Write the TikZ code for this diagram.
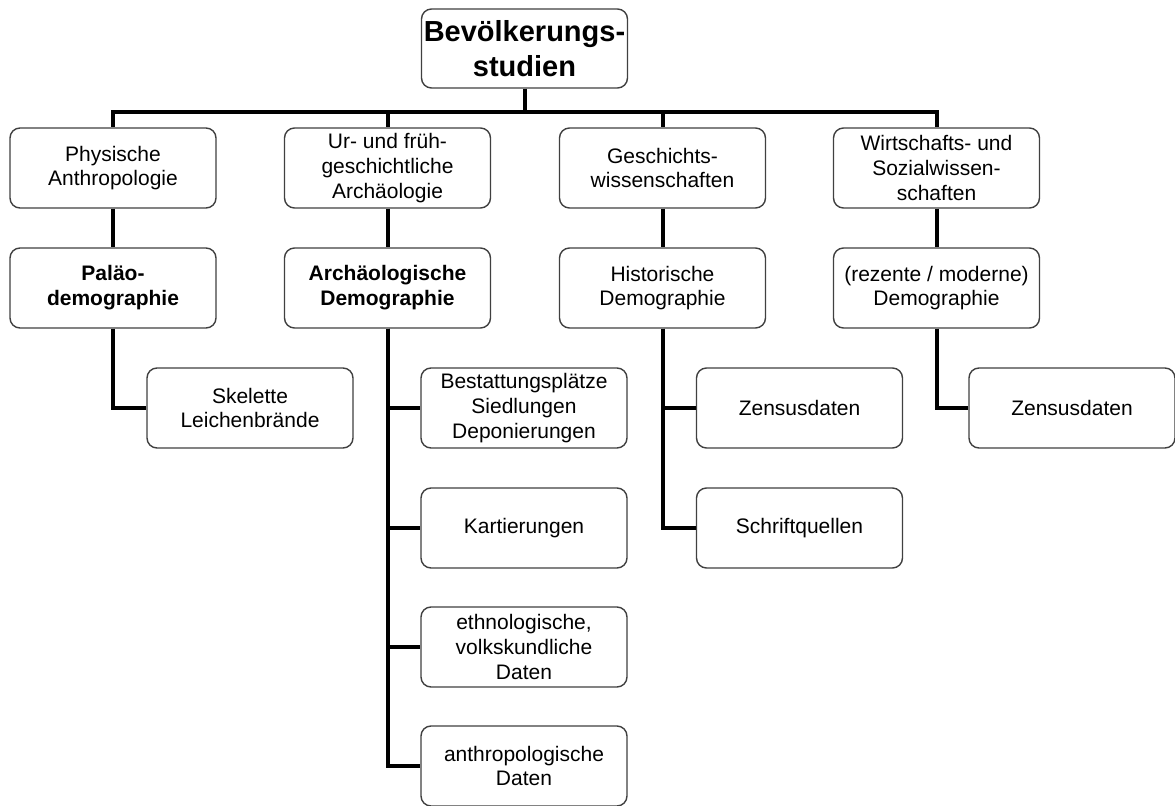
\documentclass[tikz,border=0pt]{standalone}
\usepackage{fontspec}
\setmainfont{Liberation Sans}
\begin{document}
\begin{tikzpicture}[
  x=0.5pt, y=-0.5pt,
  bvbox/.style = {draw=black!75, line width=0.7pt, rounded corners=5pt, fill=white,
                  minimum width=103pt, minimum height=40pt, inner sep=1pt, align=center,
                  font=\fontsize{10.5}{12.4}\selectfont},
  bvbold/.style = {bvbox, font=\fontsize{10.5}{12.4}\selectfont\bfseries},
  bvtitle/.style = {bvbox, minimum height=39.5pt, font=\fontsize{14.5}{17.5}\selectfont\bfseries},
  bvconn/.style = {line width=2pt, black}
]
  \useasboundingbox (0,0) rectangle (1175,806);
  % Wurzel
  \node[bvtitle] (root) at (524.5,48.5) {Bevölkerungs-\\studien};
  \coordinate (bar) at (524.5,112);
  % Fachgebiete
  \node[bvbox] (phys) at (113,168) {Physische\\Anthropologie};
  \node[bvbox] (arch) at (387.5,168) {Ur- und früh-\\geschichtliche\\Archäologie};
  \node[bvbox] (gesch) at (662.5,168) {Geschichts-\\wissenschaften};
  \node[bvbox] (wirt) at (936.5,168) {Wirtschafts- und\\Sozialwissen-\\schaften};
  % Demographien
  \node[bvbold] (palaeo) at (113,288) {Paläo-\\demographie};
  \node[bvbold] (archdemo) at (387.5,288) {Archäologische\\Demographie};
  \node[bvbox] (histdemo) at (662.5,288) {Historische\\Demographie};
  \node[bvbox] (moddemo) at (936.5,288) {(rezente / moderne)\\Demographie};
  % Quellen
  \node[bvbox] (skel) at (250,408) {Skelette\\Leichenbrände};
  \node[bvbox] (bestatt) at (524,408) {Bestattungsplätze\\Siedlungen\\Deponierungen};
  \node[bvbox] (kart) at (524,528) {Kartierungen};
  \node[bvbox] (ethno) at (524,647) {ethnologische,\\volkskundliche\\Daten};
  \node[bvbox] (anthro) at (524,766) {anthropologische\\Daten};
  \node[bvbox] (zensus) at (799.5,408) {Zensusdaten};
  \node[bvbox] (schrift) at (799.5,528) {Schriftquellen};
  \node[bvbox] (zensusmod) at (1072,408) {Zensusdaten};
  % Verbindungen
  \draw[bvconn] (root) -- (bar);
  \foreach \n in {phys, arch, gesch, wirt}
    \draw[bvconn] (bar) -| (\n.north);
  \draw[bvconn] (phys) -- (palaeo);
  \draw[bvconn] (arch) -- (archdemo);
  \draw[bvconn] (gesch) -- (histdemo);
  \draw[bvconn] (wirt) -- (moddemo);
  \draw[bvconn] (palaeo.south) |- (skel.west);
  \foreach \n in {bestatt, kart, ethno, anthro}
    \draw[bvconn] (archdemo.south) |- (\n.west);
  \foreach \n in {zensus, schrift}
    \draw[bvconn] (histdemo.south) |- (\n.west);
  \draw[bvconn] (moddemo.south) |- (zensusmod.west);
\end{tikzpicture}
\end{document}
